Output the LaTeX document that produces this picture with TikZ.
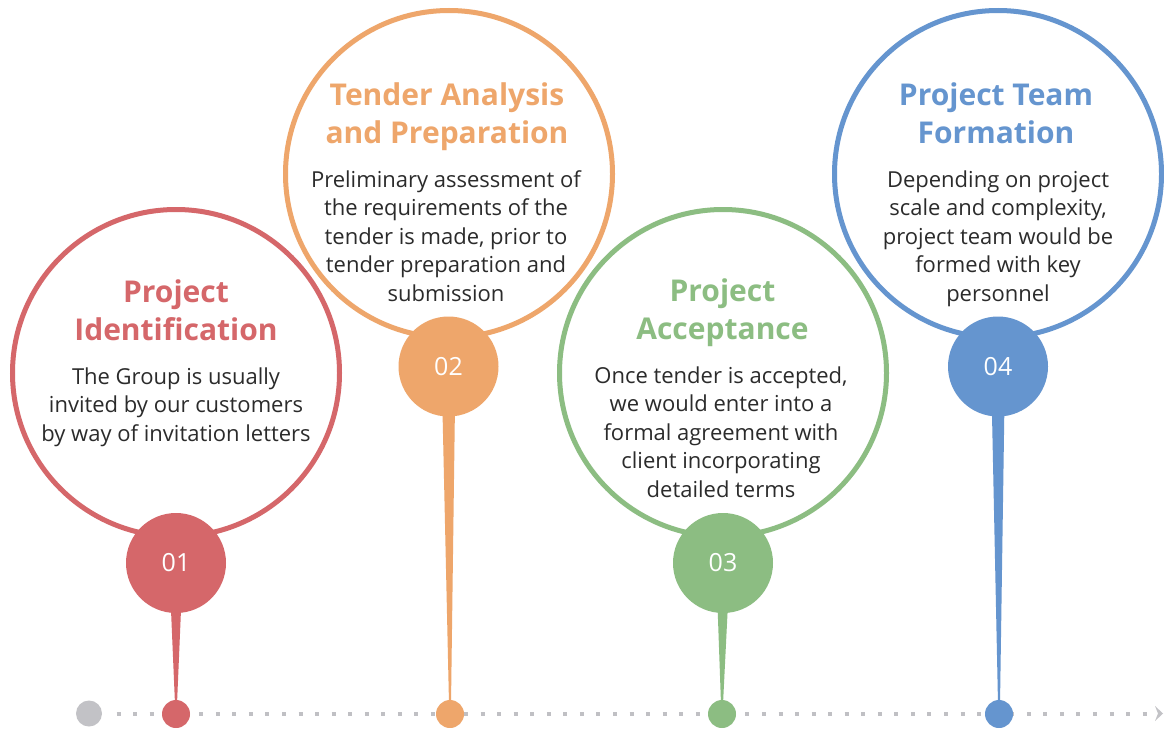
\documentclass[tikz,border=0pt]{standalone}
\usepackage{fontspec}
\setmainfont{Open Sans}
\usetikzlibrary{calc}
\definecolor{cred}{HTML}{D5676A}
\definecolor{corange}{HTML}{EEA66B}
\definecolor{cgreen}{HTML}{8CBD82}
\definecolor{cblue}{HTML}{6595CF}
\definecolor{cgray}{HTML}{C2C2C6}
\definecolor{cdots}{HTML}{C0C0C4}
\definecolor{ctext}{HTML}{2B2B2B}
\begin{document}
\begin{tikzpicture}[x=1pt,y=-1pt,
  bigring/.style={draw=#1,line width=5pt,circle,minimum size=327pt,inner sep=0pt},
  numdisc/.style={fill=#1,circle,minimum size=100pt,inner sep=0pt,text=white,
    font=\fontsize{25}{30}\selectfont},
  enddot/.style={fill=#1,circle,minimum size=28pt,inner sep=0pt},
  titletext/.style={text=#1,align=center,inner sep=0pt,anchor=north,
    font=\bfseries\fontsize{30}{38}\selectfont},
  bodytext/.style={text=ctext,align=center,inner sep=0pt,anchor=north,
    font=\fontsize{22}{28.5}\selectfont},
  timeline/.style={cdots,line width=4pt,dash pattern=on 4pt off 12.55pt}
]
\useasboundingbox (0,0) rectangle (1164,728);
\fill[white] (0,0) rectangle (1164,728);

% timeline
\node[enddot=cgray,minimum size=26pt] (d0) at (89,713.5) {};
\coordinate (tl) at (1163,713.5);
\coordinate (tlend) at (1148,713.5);
\draw[timeline] ($(d0.center)+(27.5,0)$) -- (tlend);
\fill[cgray] (tl) -- ++(-8,-7.5) -- ++(3,7.5) -- ++(-3,7.5) -- cycle;

% big rings
\node[bigring=cred] (r1) at (176,373) {};
\node[bigring=corange] (r2) at (449,174) {};
\node[bigring=cgreen] (r3) at (723,373) {};
\node[bigring=cblue] (r4) at (998,174) {};

% end dots
\node[enddot=cred] (d1) at (176,714) {};
\node[enddot=corange] (d2) at (450,714) {};
\node[enddot=cgreen] (d3) at (722,714) {};
\node[enddot=cblue] (d4) at (999,714) {};

% pins
\fill[cred] (176-7,563) -- (176+7,563) -- ($(d1.center)+(1,-10)$) -- ($(d1.center)+(-1,-10)$) -- cycle;
\fill[corange] (448.5-7,366.5) -- (448.5+7,366.5) -- ($(d2.center)+(1,-10)$) -- ($(d2.center)+(-1,-10)$) -- cycle;
\fill[cgreen] (723-7,563) -- (723+7,563) -- ($(d3.center)+(1,-10)$) -- ($(d3.center)+(-1,-10)$) -- cycle;
\fill[cblue] (998-7,366.5) -- (998+7,366.5) -- ($(d4.center)+(1,-10)$) -- ($(d4.center)+(-1,-10)$) -- cycle;

% number discs
\node[numdisc=cred] (n1) at (176,563) {01};
\node[numdisc=corange] (n2) at (448.5,366.5) {02};
\node[numdisc=cgreen] (n3) at (723,563) {03};
\node[numdisc=cblue] (n4) at (998,366.5) {04};

% texts
\node[titletext=cred] (t1) at (176,279.5) {Project\\Identification};
\node[bodytext] (b1) at (176,367.3) {The Group is usually\\invited by our customers\\by way of invitation letters};

\node[titletext=corange] (t2) at (447,83) {Tender Analysis\\and Preparation};
\node[bodytext] (b2) at (446,170.3) {Preliminary assessment of\\the requirements of the\\tender is made, prior to\\tender preparation and\\submission};

\node[titletext=cgreen] (t3) at (722.5,279) {Project\\Acceptance};
\node[bodytext] (b3) at (721,366.3) {Once tender is accepted,\\we would enter into a\\formal agreement with\\client incorporating\\detailed terms};

\node[titletext=cblue] (t4) at (996,82.5) {Project Team\\Formation};
\node[bodytext] (b4) at (998,170.3) {Depending on project\\scale and complexity,\\project team would be\\formed with key\\personnel};
\end{tikzpicture}
\end{document}
